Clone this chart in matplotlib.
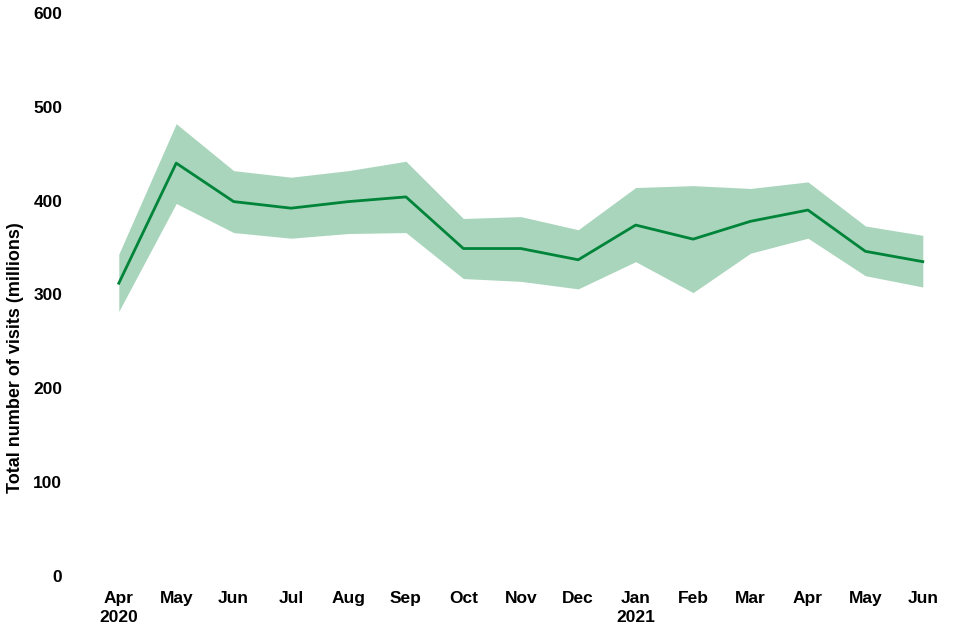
import matplotlib
matplotlib.use("Agg")
import matplotlib.pyplot as plt

months = ["Apr\n2020", "May", "Jun", "Jul", "Aug", "Sep", "Oct", "Nov", "Dec",
          "Jan\n2021", "Feb", "Mar", "Apr", "May", "Jun"]
visits = [312, 440, 399, 392, 399, 404, 349, 349, 337, 374, 359, 378, 390, 346, 335]
upper = [343, 482, 432, 425, 432, 442, 381, 383, 369, 414, 416, 413, 420, 373, 363]
lower = [282, 397, 366, 360, 365, 366, 317, 314, 306, 335, 302, 344, 360, 320, 308]
yticks = [0, 100, 200, 300, 400, 500, 600]

plt.rcParams['font.family'] = ['Liberation Sans', 'DejaVu Sans']
fig = plt.figure(figsize=(9.6, 6.4), dpi=100)
ax = fig.add_axes([0.104, 0.1, 0.88, 0.8797])
x = list(range(len(months)))
ax.fill_between(x, lower, upper, color="#a8d5bb", linewidth=0)
ax.plot(x, visits, color="#00843a", linewidth=2)
ax.set_xlim(-0.33, 14.38)
ax.set_ylim(0, 600)
ax.set_xticks(x)
ax.set_xticklabels(months, fontsize=12.5, fontweight="bold", linespacing=1.35)
ax.set_yticks(yticks)
ax.set_yticklabels([str(v) for v in yticks], fontsize=12.5, fontweight="bold")
ax.tick_params(axis="both", length=0)
ax.tick_params(axis="y", pad=27)
ax.tick_params(axis="x", pad=11)
for s in ax.spines.values():
    s.set_visible(False)
fig.text(16 / 960, 1 - 358 / 640, "Total number of visits (millions)", rotation=90,
         ha="center", va="center", fontsize=13, fontweight="bold")
fig.savefig("out.png", dpi=100)
